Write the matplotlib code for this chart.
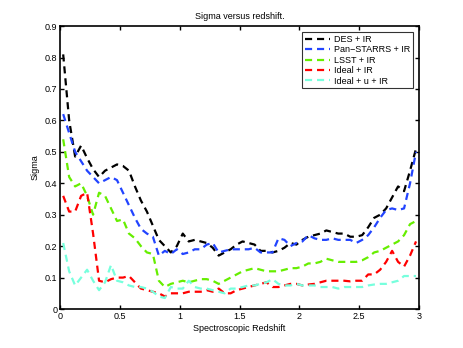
import numpy as np
import matplotlib
matplotlib.use("Agg")
import matplotlib.pyplot as plt

plt.rcParams['font.family'] = ['Liberation Sans', 'DejaVu Sans']

z = np.linspace(0.025, 2.975, 60)

des = [0.81, 0.60, 0.485, 0.52, 0.48, 0.445, 0.42, 0.44, 0.45, 0.46,
       0.455, 0.44, 0.39, 0.345, 0.31, 0.265, 0.22, 0.20, 0.18, 0.20,
       0.24, 0.215, 0.22, 0.215, 0.21, 0.195, 0.17, 0.18, 0.19, 0.205,
       0.215, 0.21, 0.205, 0.185, 0.185, 0.18, 0.185, 0.195, 0.21, 0.205,
       0.22, 0.23, 0.235, 0.24, 0.25, 0.245, 0.24, 0.24, 0.23, 0.23,
       0.235, 0.26, 0.29, 0.30, 0.32, 0.355, 0.39, 0.375, 0.44, 0.51]
pan = [0.62, 0.56, 0.50, 0.47, 0.44, 0.42, 0.40, 0.41, 0.42, 0.41,
       0.37, 0.33, 0.29, 0.255, 0.24, 0.23, 0.17, 0.185, 0.175, 0.19,
       0.175, 0.18, 0.19, 0.19, 0.205, 0.21, 0.18, 0.185, 0.19, 0.19,
       0.19, 0.19, 0.195, 0.18, 0.18, 0.18, 0.225, 0.22, 0.20, 0.21,
       0.215, 0.235, 0.225, 0.22, 0.22, 0.225, 0.22, 0.22, 0.22, 0.21,
       0.22, 0.235, 0.26, 0.29, 0.315, 0.32, 0.315, 0.32, 0.40, 0.50]
lsst = [0.54, 0.42, 0.39, 0.40, 0.36, 0.30, 0.37, 0.36, 0.32, 0.28,
        0.285, 0.24, 0.225, 0.20, 0.18, 0.175, 0.09, 0.07, 0.08, 0.085,
        0.09, 0.085, 0.09, 0.095, 0.095, 0.09, 0.08, 0.09, 0.10, 0.11,
        0.12, 0.125, 0.13, 0.125, 0.12, 0.12, 0.12, 0.125, 0.13, 0.13,
        0.135, 0.145, 0.145, 0.15, 0.16, 0.155, 0.15, 0.15, 0.15, 0.15,
        0.155, 0.165, 0.18, 0.185, 0.195, 0.205, 0.215, 0.235, 0.27, 0.28]
ideal = [0.36, 0.31, 0.31, 0.36, 0.37, 0.24, 0.09, 0.085, 0.095, 0.10,
         0.10, 0.105, 0.085, 0.065, 0.06, 0.055, 0.05, 0.04, 0.05, 0.05,
         0.05, 0.055, 0.055, 0.055, 0.06, 0.055, 0.065, 0.05, 0.05, 0.06,
         0.065, 0.07, 0.075, 0.08, 0.085, 0.07, 0.07, 0.075, 0.08, 0.08,
         0.075, 0.078, 0.08, 0.085, 0.09, 0.09, 0.09, 0.09, 0.088, 0.09,
         0.09, 0.11, 0.11, 0.125, 0.15, 0.185, 0.15, 0.135, 0.17, 0.215]
ideal_u = [0.21, 0.12, 0.075, 0.10, 0.125, 0.09, 0.06, 0.085, 0.14, 0.09,
           0.085, 0.075, 0.07, 0.07, 0.065, 0.055, 0.04, 0.035, 0.07, 0.065,
           0.065, 0.09, 0.07, 0.065, 0.065, 0.06, 0.055, 0.05, 0.065, 0.065,
           0.07, 0.075, 0.075, 0.08, 0.085, 0.095, 0.08, 0.075, 0.075, 0.08,
           0.075, 0.075, 0.075, 0.07, 0.07, 0.07, 0.065, 0.07, 0.07, 0.07,
           0.07, 0.075, 0.078, 0.08, 0.08, 0.085, 0.09, 0.105, 0.105, 0.105]

labels = ['DES + IR', 'Pan\u2212STARRS + IR', 'LSST + IR', 'Ideal + IR', 'Ideal + u + IR']
colors = ['#000000', '#2244ff', '#66ee00', '#ff0000', '#77ffdd']
series = [des, pan, lsst, ideal, ideal_u]

fig = plt.figure(figsize=(4.63, 3.48), dpi=100)
ax = fig.add_axes([0.130, 0.112, 0.775, 0.813])
for s, c, l in zip(series, colors, labels):
    ax.plot(z, s, linestyle=(0, (3.2, 2.2)), color=c, lw=1.6, label=l)

ax.set_xlim(0, 3)
ax.set_ylim(0, 0.9)
ax.set_xticks([0, 0.5, 1, 1.5, 2, 2.5, 3])
ax.set_xticklabels(['0', '0.5', '1', '1.5', '2', '2.5', '3'])
ax.set_yticks(np.arange(0, 0.91, 0.1))
ax.set_yticklabels(['0', '0.1', '0.2', '0.3', '0.4', '0.5', '0.6', '0.7', '0.8', '0.9'])
ax.tick_params(direction='in', top=True, right=True, labelsize=6.5, length=3, width=1, pad=2)
for sp in ax.spines.values():
    sp.set_linewidth(1.2)
ax.set_xlabel('Spectroscopic Redshift', fontsize=6.5, labelpad=2)
ax.set_ylabel('Sigma', fontsize=6.5, labelpad=4)
ax.set_title('Sigma versus redshift.', fontsize=6.5, pad=5)
leg = ax.legend(loc='upper right', fontsize=6.5, frameon=True, fancybox=False,
                edgecolor='black', handlelength=2.8, borderpad=0.3, labelspacing=0.15,
                handletextpad=0.4, borderaxespad=0.7)
leg.get_frame().set_linewidth(0.8)
fig.savefig('out.png', dpi=100)
